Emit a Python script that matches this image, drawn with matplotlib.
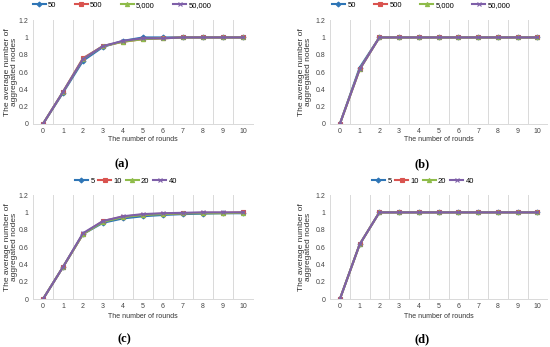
import matplotlib
matplotlib.use("Agg")
import matplotlib.pyplot as plt
import numpy as np

rounds = list(range(11))

a_labels = ["50", "500", "5,000", "50,000"]
a_50 = [0, 0.36, 0.73, 0.89, 0.96, 1.0, 1.0, 1.0, 1.0, 1.0, 1.0]
a_500 = [0, 0.37, 0.76, 0.90, 0.95, 0.98, 0.99, 1.0, 1.0, 1.0, 1.0]
a_5000 = [0, 0.37, 0.75, 0.90, 0.95, 0.98, 0.99, 1.0, 1.0, 1.0, 1.0]
a_50000 = [0, 0.37, 0.75, 0.90, 0.96, 0.99, 0.99, 1.0, 1.0, 1.0, 1.0]

b_labels = ["50", "500", "5,000", "50,000"]
b_50 = [0, 0.65, 1, 1, 1, 1, 1, 1, 1, 1, 1]
b_500 = [0, 0.63, 1, 1, 1, 1, 1, 1, 1, 1, 1]
b_5000 = [0, 0.63, 1, 1, 1, 1, 1, 1, 1, 1, 1]
b_50000 = [0, 0.63, 1, 1, 1, 1, 1, 1, 1, 1, 1]

c_labels = ["5", "10", "20", "40"]
c_5 = [0, 0.37, 0.75, 0.88, 0.93, 0.955, 0.97, 0.98, 0.985, 0.99, 0.99]
c_10 = [0, 0.37, 0.75, 0.90, 0.95, 0.975, 0.985, 0.99, 0.995, 0.995, 1.0]
c_20 = [0, 0.37, 0.75, 0.89, 0.945, 0.97, 0.98, 0.99, 0.99, 0.99, 0.995]
c_40 = [0, 0.37, 0.76, 0.90, 0.955, 0.98, 0.99, 0.995, 1.0, 1.0, 1.0]

d_labels = ["5", "10", "20", "40"]
d_5 = [0, 0.63, 1, 1, 1, 1, 1, 1, 1, 1, 1]
d_10 = [0, 0.63, 1, 1, 1, 1, 1, 1, 1, 1, 1]
d_20 = [0, 0.63, 1, 1, 1, 1, 1, 1, 1, 1, 1]
d_40 = [0, 0.63, 1, 1, 1, 1, 1, 1, 1, 1, 1]

colors = ["#2e75b6", "#d9534f", "#8fbc4a", "#7e5fa8"]
markers = ["D", "s", "^", "x"]
msizes = [2.5, 3.2, 3, 3]

fig = plt.figure(figsize=(5.5, 3.47), dpi=100)
plt.rcParams['font.family'] = ['Liberation Sans', 'DejaVu Sans']

panels = [
    ([0.06, 0.643, 0.40, 0.299], [a_50, a_500, a_5000, a_50000], a_labels, 0.222, 0.985, 0.597, 0.222, 0.527, 0.02, "(a)", 2.4),
    ([0.60, 0.643, 0.395, 0.299], [b_50, b_500, b_5000, b_50000], b_labels, 0.766, 0.985, 0.597, 0.767, 0.527, 0.555, "(b)", 2.4),
    ([0.06, 0.138, 0.40, 0.300], [c_5, c_10, c_20, c_40], c_labels, 0.229, 0.478, 0.089, 0.227, 0.023, 0.02, "(c)", 0.5),
    ([0.60, 0.138, 0.395, 0.300], [d_5, d_10, d_20, d_40], d_labels, 0.769, 0.478, 0.089, 0.767, 0.023, 0.555, "(d)", 0.5),
]

for rect, series, labels, lx, ly, xly, px, py, ylx, tag, cs in panels:
    ax = fig.add_axes(rect)
    handles = []
    for s, lab, c, m, ms in zip(series, labels, colors, markers, msizes):
        h, = ax.plot(rounds, s, color=c, lw=1.5, marker=m, ms=ms, label=lab,
                     markeredgewidth=0.8)
        handles.append(h)
    ax.set_xlim(-0.5, 10.5)
    ax.set_ylim(0, 1.2)
    ax.set_xticks(rounds)
    ax.set_xticks(np.arange(-0.5, 11, 1), minor=True)
    ax.set_yticks([0, 0.2, 0.4, 0.6, 0.8, 1.0, 1.2])
    ax.set_yticklabels(["0", "0.2", "0.4", "0.6", "0.8", "1", "1.2"])
    ax.grid(True, which="minor", axis="x", color="#d9d9d9", lw=0.7)
    ax.tick_params(which="both", length=0, labelsize=5, colors="#444444", pad=3)
    for sp in ["top", "right", "left"]:
        ax.spines[sp].set_visible(False)
    ax.spines["bottom"].set_color("#d9d9d9")
    ax.spines["bottom"].set_linewidth(0.7)
    fig.text(rect[0] + rect[2] / 2, xly, "The number of rounds", ha="center", va="center",
             fontsize=5, color="#333333")
    fig.text(ylx, rect[1] + rect[3] / 2, "The average number of\naggregated nodes", rotation=90,
             ha="center", va="center", fontsize=6, color="#333333", linespacing=0.95)
    fig.legend(handles=handles, loc="center", bbox_to_anchor=(lx, ly), ncol=4, frameon=False,
               fontsize=5.5, handlelength=1.7, columnspacing=cs, handletextpad=0.3,
               borderaxespad=0, borderpad=0)
    fig.text(px, py, tag, ha="center", va="center", fontsize=9, fontweight="bold",
             family="Liberation Serif")

fig.savefig("out.png", dpi=100)
